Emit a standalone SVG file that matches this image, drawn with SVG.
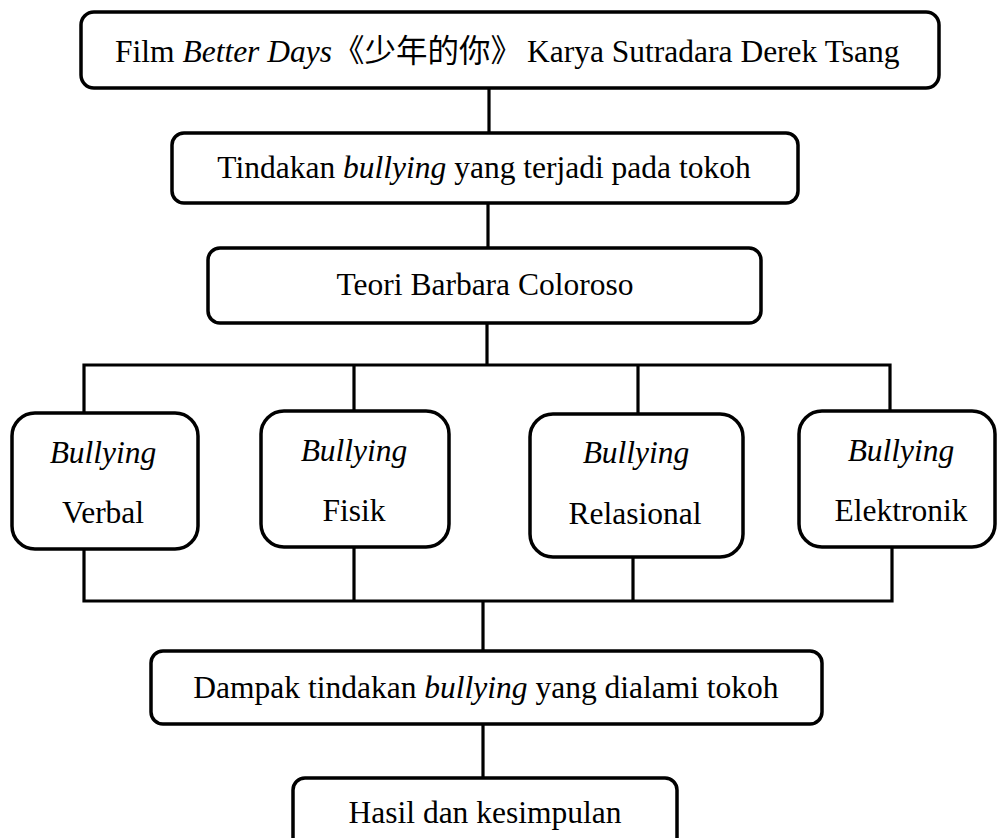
<svg xmlns="http://www.w3.org/2000/svg" width="998" height="838" viewBox="0 0 998 838">
<style>
.box{fill:#fff;stroke:#000;stroke-width:3.5}
.ln{fill:none;stroke:#000;stroke-width:3.2;stroke-linejoin:miter}
text{font-family:"Liberation Serif","Times New Roman","Noto Sans CJK SC",serif;font-size:31.5px;fill:#000}
.c{text-anchor:middle}
.i{font-style:italic}
.cjk{font-family:"Noto Sans CJK SC","Noto Sans CJK TC",sans-serif}
</style>
<rect width="998" height="838" fill="#fff"/>
<g id="connectors">
<path class="ln" d="M489 88 V133"/>
<path class="ln" d="M488 203 V248"/>
<path class="ln" d="M487 323 V365"/>
<path class="ln" d="M84 413 V365 H890 V411"/>
<path class="ln" d="M354 365 V411"/>
<path class="ln" d="M638 365 V414"/>
<path class="ln" d="M84 549 V601 H892 V547"/>
<path class="ln" d="M354 547 V601"/>
<path class="ln" d="M633 557 V601"/>
<path class="ln" d="M483 601 V651"/>
<path class="ln" d="M483 724 V778"/>
</g>
<g id="film">
<rect class="box" x="81" y="12" width="858" height="76" rx="13"/>
<text x="115" y="62">Film <tspan class="i">Better Days</tspan><tspan class="cjk" x="333">《少年的你》</tspan><tspan x="527">Karya Sutradara Derek Tsang</tspan></text>
</g>
<g id="tindakan">
<rect class="box" x="172" y="133" width="626" height="70" rx="12"/>
<text class="c" x="484" y="178">Tindakan <tspan class="i">bullying</tspan> yang terjadi pada tokoh</text>
</g>
<g id="teori">
<rect class="box" x="208" y="248" width="553" height="75" rx="12"/>
<text class="c" x="485" y="295">Teori Barbara Coloroso</text>
</g>
<g id="verbal">
<rect class="box" x="12" y="413" width="186" height="136" rx="23"/>
<text class="c i" x="103" y="463">Bullying</text>
<text class="c" x="103" y="523">Verbal</text>
</g>
<g id="fisik">
<rect class="box" x="261" y="411" width="188" height="136" rx="23"/>
<text class="c i" x="354" y="461">Bullying</text>
<text class="c" x="354" y="521">Fisik</text>
</g>
<g id="relasional">
<rect class="box" x="530" y="414" width="213" height="143" rx="23"/>
<text class="c i" x="636" y="463">Bullying</text>
<text class="c" x="635" y="524">Relasional</text>
</g>
<g id="elektronik">
<rect class="box" x="799" y="411" width="196" height="136" rx="23"/>
<text class="c i" x="901" y="461">Bullying</text>
<text class="c" x="901" y="521">Elektronik</text>
</g>
<g id="dampak">
<rect class="box" x="151" y="651" width="671" height="73" rx="12"/>
<text class="c" x="486" y="698">Dampak tindakan <tspan class="i">bullying</tspan> yang dialami tokoh</text>
</g>
<g id="hasil">
<rect class="box" x="293" y="778" width="384" height="76" rx="12"/>
<text class="c" x="485" y="823">Hasil dan kesimpulan</text>
</g>
</svg>
